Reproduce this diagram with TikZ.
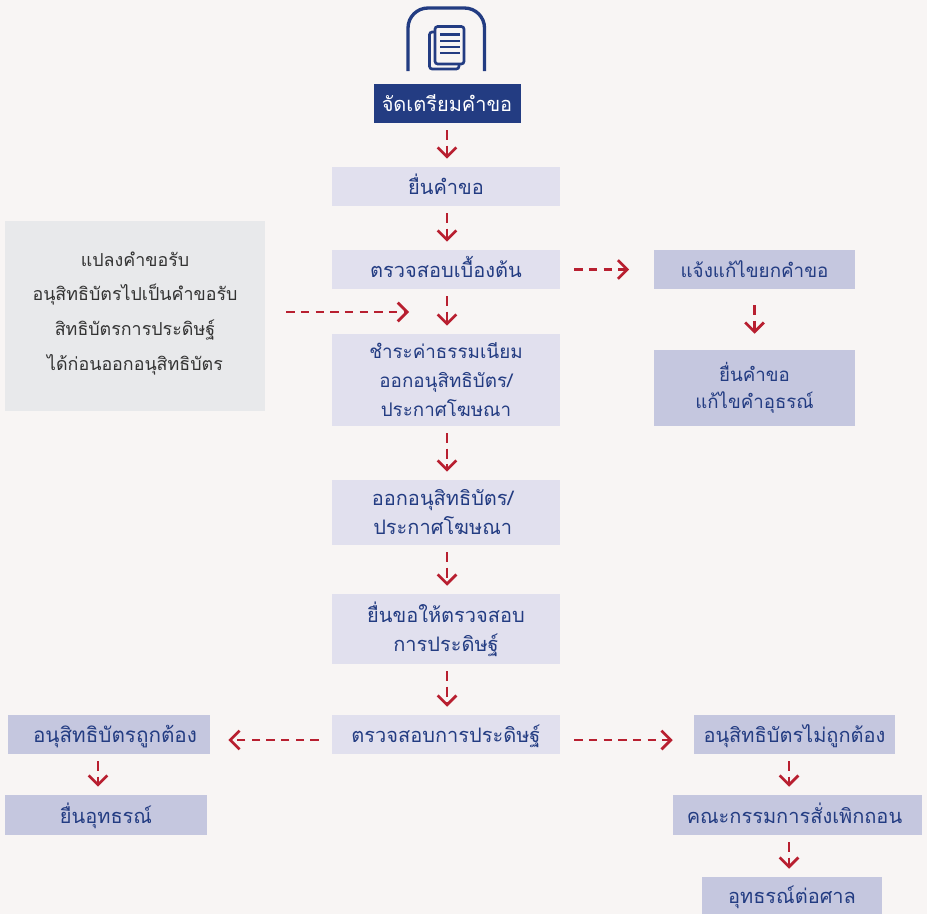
\documentclass[tikz,border=0pt]{standalone}
\usepackage{fontspec}
\setmainfont[Script=Thai]{Loma}
\usetikzlibrary{arrows.meta}
\definecolor{pagebg}{HTML}{F8F5F4}
\definecolor{navy}{HTML}{233C82}
\definecolor{lav}{HTML}{E1E0EE}
\definecolor{per}{HTML}{C5C7DF}
\definecolor{gry}{HTML}{E8E9EB}
\definecolor{txtgray}{HTML}{333333}
\definecolor{arr}{HTML}{B81F30}
\newcommand{\sz}[1]{\fontsize{15}{#1}\selectfont}
\newcommand{\szb}[2]{\fontsize{#1}{#2}\selectfont}
\tikzset{
 x=0.75pt,y=-0.75pt,
 box/.style={rectangle,inner sep=0pt,align=center,text=navy,font=\sz{21.75}},
 lavbox/.style={box,fill=lav},
 perbox/.style={box,fill=per},
 oneline/.style={text height=14pt,text depth=1.5pt},
 sized/.style 2 args={minimum width=#1*0.75pt,minimum height=#2*0.75pt},
 flow/.style={draw=arr,line width=2.1pt,dash pattern=on 7.5pt off 4pt,-{Straight Barb[length=7pt,width=14pt,line width=2.1pt]}},
 longflow/.style={flow,dash pattern=on 6.3pt off 4.7pt},
 down/.style={flow,shorten <=7*0.75pt,shorten >=8*0.75pt},
}
\begin{document}
\begin{tikzpicture}
\useasboundingbox (0,0) rectangle (927,914);
\fill[pagebg] (0,0) rectangle (927,914);
% icon
\draw[navy,line width=2.5pt,rounded corners=20*0.75pt] (408,71) -- (408,8) -- (484.5,8) -- (484.5,71);
\draw[navy,line width=2pt,rounded corners=2pt] (435,32) -- (429.5,32) -- (429.5,69) -- (459,69) -- (459,64);
\draw[navy,line width=2pt,rounded corners=2pt] (435,26.5) rectangle (464,64);
\foreach \yy in {34.5,41,47,53}{\draw[navy,line width=2pt] (440,\yy) -- (460,\yy);}
% nodes
\node[box,oneline,fill=navy,text=white,sized={147}{39}] (prep) at (447,103.5) {จัดเตรียมคำขอ};
\node[lavbox,oneline,sized={228}{39}] (submit) at (446,186.5) {ยื่นคำขอ};
\node[lavbox,oneline,sized={228}{39}] (check) at (446,269.5) {ตรวจสอบเบื้องต้น};
\node[lavbox,sized={228}{92},font=\szb{14.1}{21.75}] (pay) at (446,380) {ชำระค่าธรรมเนียม\\ออกอนุสิทธิบัตร/\\ประกาศโฆษณา};
\node[lavbox,sized={228}{65}] (issue) at (446,512.5) {ออกอนุสิทธิบัตร/\hspace*{5pt}\\ประกาศโฆษณา\hspace*{5pt}};
\node[lavbox,sized={228}{70}] (req) at (446,629) {ยื่นขอให้ตรวจสอบ\\การประดิษฐ์};
\node[lavbox,oneline,sized={228}{39}] (exam) at (446,734.5) {ตรวจสอบการประดิษฐ์};
\node[perbox,oneline,sized={201}{39},font=\szb{14.1}{20}] (fix) at (754.5,269.5) {แจ้งแก้ไขยกคำขอ};
\node[perbox,sized={201}{76},font=\szb{14}{20}] (amend) at (754.5,388) {ยื่นคำขอ\\แก้ไขคำอุธรณ์};
\node[box,fill=gry,text=txtgray,sized={260}{190},font=\szb{13.4}{26},text height=91.5pt,text depth=10.5pt] (conv) at (135,316) {แปลงคำขอรับ\\อนุสิทธิบัตรไปเป็นคำขอรับ\\สิทธิบัตรการประดิษฐ์\\ได้ก่อนออกอนุสิทธิบัตร};
\node[perbox,oneline,sized={202}{39},font=\szb{15.5}{20}] (valid) at (109,734.5) {\hspace*{9pt}อนุสิทธิบัตรถูกต้อง};
\node[perbox,oneline,sized={202}{40}] (appeal) at (106,815) {ยื่นอุทธรณ์};
\node[perbox,oneline,sized={201}{39}] (invalid) at (794.5,734.5) {อนุสิทธิบัตรไม่ถูกต้อง};
\node[perbox,oneline,sized={249}{40}] (board) at (797.5,815) {คณะกรรมการสั่งเพิกถอน\hspace*{4.5pt}};
\node[perbox,oneline,sized={180}{37}] (court) at (792,895.5) {อุทธรณ์ต่อศาล};
% connectors
\draw[down] (prep.south) -- (prep.south |- submit.north);
\draw[down] (prep.south |- submit.south) -- (prep.south |- check.north);
\draw[down] (prep.south |- check.south) -- (prep.south |- pay.north);
\draw[down] (prep.south |- pay.south) -- (prep.south |- issue.north);
\draw[down] (prep.south |- issue.south) -- (prep.south |- req.north);
\draw[down] (prep.south |- req.south) -- (prep.south |- exam.north);
\draw[down,shorten <=16*0.75pt,shorten >=16*0.75pt] (fix.south) -- (fix.south |- amend.north);
\draw[down] ([xshift=-11*0.75pt]valid.south) -- ([xshift=-11*0.75pt]valid.south |- appeal.north);
\draw[down] ([xshift=-5.5*0.75pt]invalid.south) -- ([xshift=-5.5*0.75pt]invalid.south |- board.north);
\draw[down] ([xshift=-5.5*0.75pt]invalid.south |- board.south) -- ([xshift=-5.5*0.75pt]invalid.south |- court.north);
\draw[longflow,shorten <=14*0.75pt,shorten >=24.5*0.75pt] (check.east) -- (fix.west);
\draw[longflow,shorten <=21*0.75pt,shorten >=37*0.75pt] ([yshift=4*0.75pt]conv.east) -- ([yshift=4*0.75pt]conv.east -| pay.north);
\draw[longflow,shorten <=13*0.75pt,shorten >=18*0.75pt] ([yshift=-5.5*0.75pt]exam.west) -- ([yshift=-5.5*0.75pt]valid.east);
\draw[longflow,shorten <=14*0.75pt,shorten >=21*0.75pt] ([yshift=-5.5*0.75pt]exam.east) -- ([yshift=-5.5*0.75pt]invalid.west);
\end{tikzpicture}
\end{document}
